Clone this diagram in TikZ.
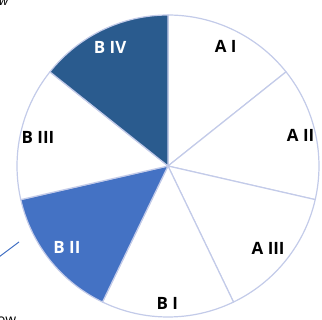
\documentclass[tikz,border=0pt]{standalone}
\usepackage{fontspec}
\setmainfont{Open Sans}
\usetikzlibrary{calc}
\definecolor{darkslice}{HTML}{2A5B8E}
\definecolor{midslice}{HTML}{4472C4}
\definecolor{rimline}{HTML}{C3CBE9}
\begin{document}
\begin{tikzpicture}[x=1bp,y=1bp,
  slice/.style={draw=rimline,line width=1.2bp,line join=round},
  lbl/.style={font=\fontsize{17}{18}\selectfont\bfseries,text=black,inner sep=0pt},
  lblw/.style={lbl,text=white}]
\useasboundingbox (0,0) rectangle (322,320);
\coordinate (c) at (168,154);
\def\rr{151}
% pie slices: start angle, end angle, fill, explode offset
\foreach \s/\e/\f/\o in {38.57/90/white/2, -12.86/38.57/white/2,
    -64.29/-12.86/white/2, -115.71/-64.29/white/2,
    -167.14/-115.71/midslice/2, 141.43/192.86/white/2,
    90/141.43/darkslice/3}{
  \pgfmathsetmacro\mid{(\s+\e)/2}
  \draw[slice,fill=\f,shift={(\mid:\o)}] (c) -- ++(\s:\rr)
    arc[start angle=\s,end angle=\e,radius=\rr] -- cycle;
}
% labels
\node[lbl]  (a1) at ($(c)+(64.29:133)$) {A I};
\node[lbl]  (a2) at ($(c)+(12.86:136)$) {A II};
\node[lbl]  (a3) at ($(c)+(-39.6:130)$) {A III};
\node[lbl]  (b1) at ($(c)+(-90.3:137)$) {B I};
\node[lblw] (b2) at ($(c)+(-141:130)$) {B II};
\node[lbl]  (b3) at ($(c)+(167.8:133)$) {B III};
\node[lblw] (b4) at ($(c)+(116:132)$) {B IV};
% pointer line leaving the left edge
\coordinate (p0) at (-1,63);
\coordinate (p1) at (19,78);
\draw[midslice,line width=1bp] (p0) -- (p1);
% captions running off the corners
\node[font=\fontsize{13}{13}\selectfont\itshape,anchor=base west,inner sep=0pt] (capt) at (-1,315) {w};
\node[font=\fontsize{14}{14}\selectfont,anchor=base west,inner sep=0pt] (capb) at (-3,-4) {ow};
\end{tikzpicture}
\end{document}
